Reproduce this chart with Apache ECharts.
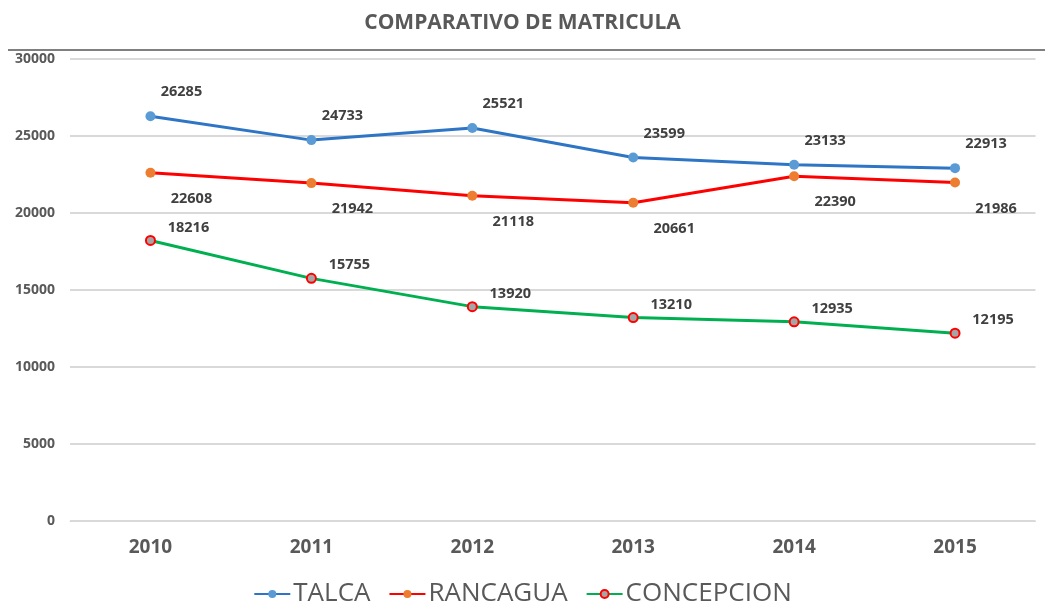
<!DOCTYPE html>
<html>
<head>
<meta charset="utf-8">
<script src="https://cdn.jsdelivr.net/npm/echarts@6/dist/echarts.min.js"></script>
<style>html,body{margin:0;padding:0;background:#fff;}#c{width:1045px;height:605px;}</style>
</head>
<body>
<div id="c"></div>
<script>
const years = ['2010', '2011', '2012', '2013', '2014', '2015'];
const talca = [26285, 24733, 25521, 23599, 23133, 22913];
const rancagua = [22608, 21942, 21118, 20661, 22390, 21986];
const concepcion = [18216, 15755, 13920, 13210, 12935, 12195];
const yTicks = [0, 5000, 10000, 15000, 20000, 25000, 30000];

const chart = echarts.init(document.getElementById('c'));
const labelStyle = { show: true, color: '#404040', fontSize: 14.5, fontWeight: 'bold', fontFamily: 'Open Sans' };
chart.setOption({
  animation: false,
  title: {
    text: 'COMPARATIVO DE MATRICULA', left: 'center', top: 8,
    textStyle: { color: '#595959', fontSize: 21, fontWeight: 'bold', fontFamily: 'Open Sans' }
  },
  graphic: [{
    type: 'line', shape: { x1: 8, y1: 50, x2: 1045, y2: 50 },
    style: { stroke: '#7f7f7f', lineWidth: 2 }
  }],
  grid: { left: 70, right: 9.5, top: 59, bottom: 84 },
  legend: {
    top: 576, left: 'center', itemGap: 18, itemWidth: 36, itemHeight: 10,
    textStyle: { color: '#595959', fontSize: 26, fontFamily: 'Open Sans', padding: [0, 0, 0, -2] },
    data: ['TALCA', 'RANCAGUA', 'CONCEPCION']
  },
  xAxis: {
    type: 'category', data: years, boundaryGap: true,
    axisLine: { show: true, lineStyle: { color: '#d9d9d9', width: 1 } },
    axisTick: { show: false },
    axisLabel: { color: '#595959', fontSize: 19, fontWeight: 'bold', fontFamily: 'Open Sans', margin: 17 }
  },
  yAxis: {
    type: 'value', min: yTicks[0], max: yTicks[yTicks.length - 1], interval: 5000,
    axisLine: { show: false }, axisTick: { show: false },
    splitLine: { lineStyle: { color: '#d9d9d9', width: 2 } },
    axisLabel: { color: '#595959', fontSize: 14, fontWeight: 'bold', fontFamily: 'Open Sans', margin: 15,
      formatter: function (v) { return String(v); } }
  },
  series: [
    {
      name: 'TALCA', type: 'line', data: talca, symbol: 'circle', symbolSize: 10,
      lineStyle: { color: '#2e75c6', width: 3 },
      itemStyle: { color: '#5b9bd5', borderWidth: 0 },
      label: Object.assign({}, labelStyle, { position: 'inside', offset: [31, -24] })
    },
    {
      name: 'RANCAGUA', type: 'line', data: rancagua, symbol: 'circle', symbolSize: 10,
      lineStyle: { color: '#ff0000', width: 3 },
      itemStyle: { color: '#ed7d31', borderWidth: 0 },
      label: Object.assign({}, labelStyle, { position: 'inside', offset: [41, 26] })
    },
    {
      name: 'CONCEPCION', type: 'line', data: concepcion, symbol: 'circle', symbolSize: 9,
      lineStyle: { color: '#00b050', width: 3 },
      itemStyle: { color: '#a5a5a5', borderColor: '#ff0000', borderWidth: 2 },
      label: Object.assign({}, labelStyle, { position: 'inside', offset: [38, -13] })
    }
  ]
});
</script>
</body>
</html>
